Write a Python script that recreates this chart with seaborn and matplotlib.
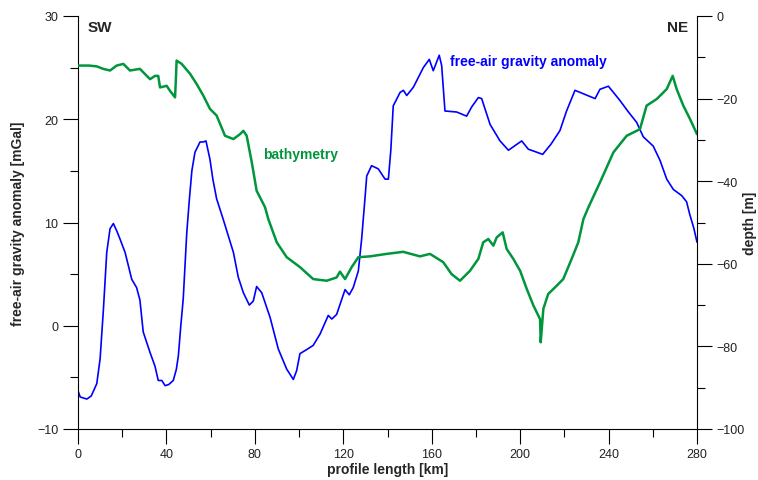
import matplotlib
matplotlib.use("Agg")
import matplotlib.pyplot as plt
import seaborn as sns
import pandas as pd
from matplotlib.ticker import MultipleLocator

# ---- data ----
grav_km = [0, 1, 4, 6, 8.5, 10, 11.5, 13, 14.5, 16, 17.5, 19, 21.3, 24.3, 26.5, 28,
           29.5, 32.6, 34.8, 36.3, 37.9, 39.4, 41, 43.1, 44.5, 45.4, 46.5, 47.6, 49.2,
           50.4, 51.5, 52.9, 55.2, 56.7, 57.9, 59.7, 61, 62.7, 65.7, 70.3, 72.5, 74.8,
           77.5, 79.3, 80.8, 83.1, 86.9, 90.6, 94.4, 97.4, 98.9, 100.4, 103.5, 106.4,
           109.5, 113.2, 114.8, 117, 120.8, 122.7, 124.5, 126.8, 128.3, 129.8, 130.6,
           132.8, 135.8, 138.9, 140.4, 141.5, 142.6, 145.7, 147.2, 148.7, 151.7, 156.2,
           158.9, 160.7, 163.4, 164.5, 166, 171.3, 175.8, 178.1, 181.1, 182.6, 186.4,
           190.9, 194.7, 200.7, 203.7, 210.2, 214, 218, 221, 224.8, 227.1, 233.9, 236.1,
           239.9, 242.2, 245.2, 249, 252.7, 255.7, 260.2, 263.3, 266.3, 269.3, 273.1,
           275.3, 276.7, 278.5, 280]
grav_mgal = [-6.3, -6.9, -7.1, -6.8, -5.6, -3.2, 1.6, 7.1, 9.4, 9.9, 9.2, 8.4, 7.1, 4.5,
             3.7, 2.5, -0.6, -2.6, -3.9, -5.3, -5.3, -5.8, -5.7, -5.3, -4.2, -2.9, 0.0,
             2.6, 9.0, 12.3, 15.0, 16.8, 17.8, 17.8, 17.9, 16.1, 14.2, 12.3, 10.3, 7.1,
             4.7, 3.2, 2.0, 2.4, 3.8, 3.2, 0.8, -2.25, -4.2, -5.2, -4.35, -2.7, -2.3,
             -1.9, -0.8, 1.0, 0.65, 1.1, 3.5, 3.0, 3.7, 5.3, 8.4, 12.3, 14.5, 15.5, 15.2,
             14.2, 14.2, 17.0, 21.3, 22.6, 22.8, 22.3, 23.1, 25.0, 25.8, 24.7, 26.2,
             25.2, 20.8, 20.7, 20.3, 21.2, 22.1, 22.0, 19.5, 17.9, 17.0, 17.9, 17.1,
             16.6, 17.6, 18.9, 20.8, 22.8, 22.6, 22.0, 22.9, 23.2, 22.6, 21.8, 20.7,
             19.7, 18.3, 17.4, 16.0, 14.2, 13.2, 12.6, 12.0, 10.8, 9.5, 8.1]

bath_km = [0, 5, 8.5, 11.4, 14.5, 17.5, 20.5, 23.5, 28, 32.6, 34.8, 36.3, 37.1, 40.1,
           41.6, 43.9, 44.3, 44.6, 46.9, 50.7, 53.7, 56.7, 59.7, 62.7, 66.5, 70.3, 73.3,
           74.8, 76.3, 78.6, 80.8, 84.6, 86.1, 89.9, 94.4, 100.4, 106.4, 112.5, 117,
           118.5, 120.8, 123.8, 126.8, 132.1, 139.6, 147.1, 154.7, 159.2, 165.2, 169,
           172.8, 177.3, 181.1, 183.3, 185.6, 187.9, 189.4, 192.1, 193.9, 196.9, 200,
           203, 206, 209, 209.3, 210.5, 212.7, 215.8, 219.5, 223.3, 226.3, 228.6, 230.9,
           236.1, 242.2, 248.2, 254.2, 257.2, 261.8, 266.3, 269, 270.8, 273.8, 276.8, 280]
bath_m = [-12.0, -12.0, -12.2, -12.8, -13.2, -12.0, -11.6, -13.2, -12.8, -15.3, -14.5,
          -14.5, -17.3, -16.9, -18.1, -19.7, -15.0, -10.8, -11.6, -14.0, -16.5, -19.3,
          -22.5, -24.1, -29.0, -29.8, -28.6, -27.8, -29.0, -35.4, -42.3, -46.3, -49.2,
          -54.8, -58.4, -60.8, -63.7, -64.1, -63.3, -61.9, -63.7, -60.8, -58.4, -58.2,
          -57.6, -57.1, -58.2, -57.6, -59.6, -62.5, -64.1, -61.7, -58.8, -54.8, -54.0,
          -55.6, -53.6, -52.4, -56.4, -58.8, -61.7, -66.1, -70.1, -73.4, -79.0, -70.9,
          -67.3, -65.7, -63.7, -58.8, -54.8, -49.2, -46.3, -40.3, -33.0, -29.0, -27.4,
          -21.7, -20.1, -17.7, -14.5, -17.7, -21.7, -24.9, -28.6]

x_ticks = [0, 40, 80, 120, 160, 200, 240, 280]
grav_ticks = [-10, 0, 10, 20, 30]
depth_ticks = [-100, -80, -60, -40, -20, 0]

grav_df = pd.DataFrame({"km": grav_km, "mgal": grav_mgal})
bath_df = pd.DataFrame({"km": bath_km, "m": bath_m})

sns.set_style("ticks")
plt.rcParams["font.family"] = ["Liberation Sans", "DejaVu Sans"]

BLUE = "#0000ff"
GREEN = "#00963c"

fig = plt.figure(figsize=(7.58, 4.81), dpi=100)
ax = fig.add_axes([78 / 758, 1 - 430 / 481, (697 - 78) / 758, (430 - 17) / 481])
ax2 = ax.twinx()

sns.lineplot(data=grav_df, x="km", y="mgal", ax=ax, color=BLUE, linewidth=1.2,
             estimator=None, sort=False)
sns.lineplot(data=bath_df, x="km", y="m", ax=ax2, color=GREEN, linewidth=1.8,
             estimator=None, sort=False)

ax.set_xlim(0, 280)
ax.set_ylim(-10, 30)
ax2.set_ylim(-100, 0)

ax.set_xticks(x_ticks)
ax.set_yticks(grav_ticks)
ax2.set_yticks(depth_ticks)
ax.xaxis.set_minor_locator(MultipleLocator(20))
ax.yaxis.set_minor_locator(MultipleLocator(5))
ax2.yaxis.set_minor_locator(MultipleLocator(10))

for a in (ax, ax2):
    a.tick_params(which="major", length=11, width=0.8, color="black",
                  labelsize=9, labelcolor="#222222", pad=3)
    a.tick_params(which="minor", length=5.5, width=0.8, color="black")
    for s in a.spines.values():
        s.set_linewidth(0.8)
        s.set_color("black")

ax.spines["top"].set_visible(False)
ax.spines["right"].set_visible(False)
ax2.spines["top"].set_visible(False)
ax2.spines["left"].set_visible(False)
ax2.spines["bottom"].set_visible(False)

ax.set_xlabel("profile length [km]", fontsize=10, fontweight="bold")
ax.set_ylabel("free-air gravity anomaly [mGal]", fontsize=10, fontweight="bold")
ax2.set_ylabel("depth [m]", fontsize=10, fontweight="bold")
ax.xaxis.set_label_coords(0.5, (430 - 463) / 413)
ax.yaxis.set_label_coords((25 - 78) / 619, 0.5)
ax2.yaxis.set_label_coords(1.0 + (743 - 697) / 619, 0.5)

ax.text(4.5, 28.9, "SW", fontsize=11, fontweight="bold", va="center", ha="left")
ax.text(276, 28.9, "NE", fontsize=11, fontweight="bold", va="center", ha="right")
ax.text(83.7, 16.6, "bathymetry", fontsize=10, fontweight="bold", color=GREEN,
        va="center", ha="left")
ax.text(168.3, 25.6, "free-air gravity anomaly", fontsize=10, fontweight="bold",
        color=BLUE, va="center", ha="left")

fig.savefig("out.png", dpi=100)
